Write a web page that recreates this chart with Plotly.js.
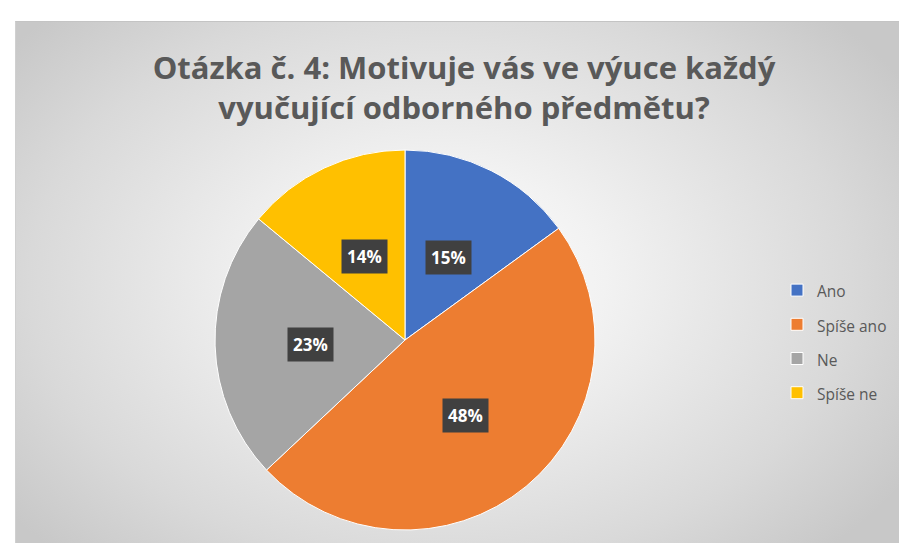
<!DOCTYPE html>
<html>
<head>
<meta charset="utf-8">
<script src="https://cdn.plot.ly/plotly-3.0.1.min.js"></script>
<style>
  html, body { margin: 0; padding: 0; background: #ffffff; }
  #wrap { position: relative; width: 899px; height: 543px; overflow: hidden; }
  #bg { position: absolute; left: 15px; top: 21px; width: 884px; height: 540px;
        background: radial-gradient(ellipse 62% 70% at 48% 48%, #ffffff 0%, #f2f2f2 30%, #d9d9d9 75%, #c8c8c8 100%);
        border-top: 1px solid #c4c4c4; border-left: 1px solid #d0d0d0; }
  #chart { position: absolute; left: 0; top: 0; width: 899px; height: 543px; }
</style>
</head>
<body>
<div id="wrap">
  <div id="bg"></div>
  <div id="chart"></div>
</div>
<script>
const categories = ["Ano", "Spíše ano", "Ne", "Spíše ne"];
const values = [15, 48, 23, 14];
const colors = ["#4472C4", "#ED7D31", "#A5A5A5", "#FFC000"];
const titleText = "Otázka č. 4: Motivuje vás ve výuce každý<br>vyučující odborného předmětu?";

const W = 899, H = 543;
const cxPx = 405, cyPx = 340, rPx = 190;
const domX = [(cxPx - rPx) / W, (cxPx + rPx) / W];
const domY = [(H - cyPx - rPx) / H, (H - cyPx + rPx) / H];

// label annotations computed from the data (percent + slice mid-angle)
const total = values.reduce((a, b) => a + b, 0);
const annotations = [];
let cum = 0;
values.forEach((v, i) => {
  const mid = (cum + v / 2) / total * 2 * Math.PI;
  cum += v;
  const dist = 0.5 * rPx;
  const xPx = cxPx + dist * Math.sin(mid);
  const yPx = cyPx - dist * Math.cos(mid);
  annotations.push({
    x: xPx / W, y: 1 - (yPx + 2) / H, xref: "paper", yref: "paper",
    text: "<b>" + Math.round(v / total * 100) + "%</b>",
    showarrow: false,
    font: { family: "Open Sans, sans-serif", size: 17, color: "#ffffff" },
    bgcolor: "#404040",
    borderpad: 5,
    xanchor: "center", yanchor: "middle"
  });
});

const legendLabels = categories.map(c => '<span style="font-size:15.5px;baseline-shift:2px">' + c + '</span>');

const data = [{
  type: "pie",
  labels: legendLabels,
  values: values,
  sort: false,
  direction: "clockwise",
  rotation: 0,
  textinfo: "none",
  hoverinfo: "label+percent",
  marker: { colors: colors, line: { color: "#ffffff", width: 1 } },
  domain: { x: domX, y: domY },
  automargin: false,
  showlegend: true
}];

const layout = {
  width: W, height: H,
  margin: { l: 0, r: 0, t: 0, b: 0 },
  paper_bgcolor: "rgba(0,0,0,0)",
  plot_bgcolor: "rgba(0,0,0,0)",
  title: {
    text: "<b>" + titleText + "</b>",
    font: { family: "Open Sans, sans-serif", size: 31, color: "#595959" },
    x: 464 / W, xanchor: "center",
    y: 1 - 79 / H, yanchor: "middle"
  },
  legend: {
    x: 777 / W, xanchor: "left",
    y: 1 - 268 / H, yanchor: "top",
    font: { family: "Open Sans, sans-serif", size: 24, color: "#595959" },
    bgcolor: "rgba(0,0,0,0)",
    traceorder: "normal"
  },
  annotations: annotations
};

Plotly.newPlot("chart", data, layout, { displayModeBar: false, staticPlot: true });
</script>
</body>
</html>
